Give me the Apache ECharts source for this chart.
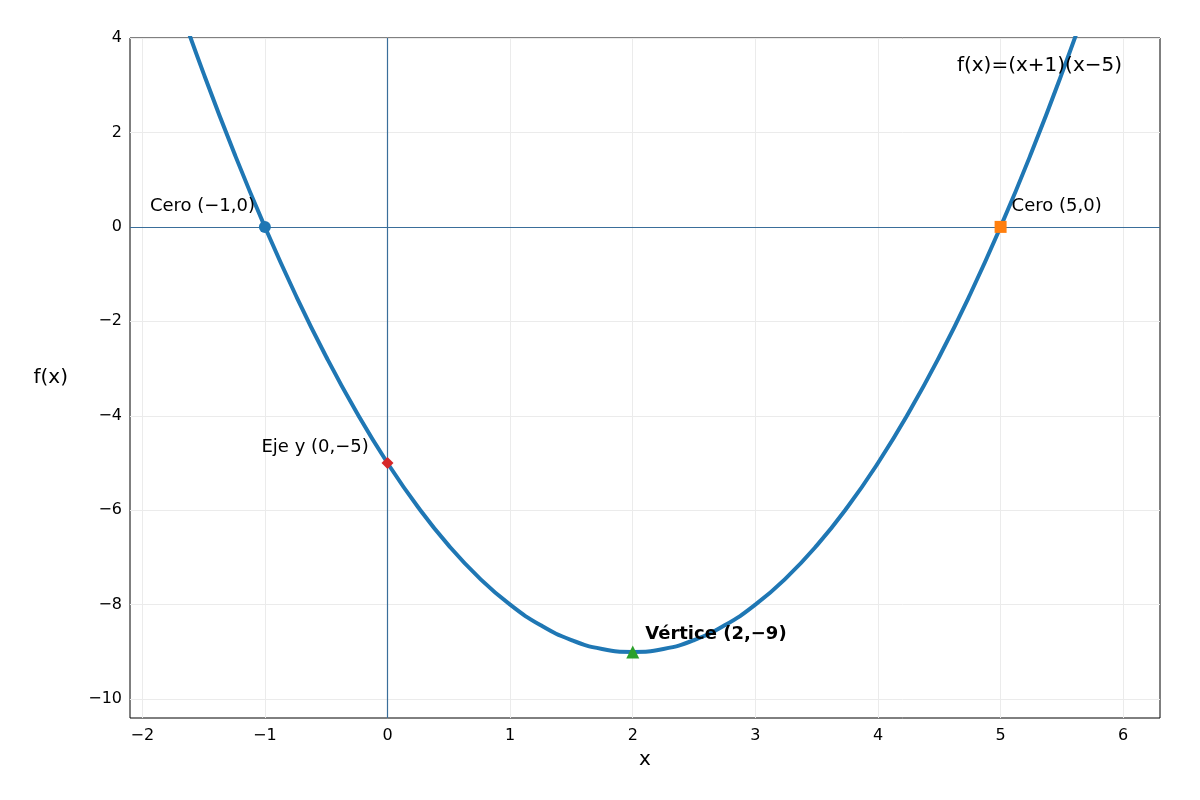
<!DOCTYPE html>
<html><head><meta charset="utf-8">
<script src="https://cdn.jsdelivr.net/npm/echarts@6/dist/echarts.min.js"></script>
<style>html,body{margin:0;background:#fff}#c{width:1200px;height:800px}</style>
</head><body><div id="c"></div>
<script>
const curveX = [-1.75,-1.5,-1.25,-1,-0.75,-0.5,-0.25,0,0.25,0.5,0.75,1,1.25,1.5,1.75,2,2.25,2.5,2.75,3,3.25,3.5,3.75,4,4.25,4.5,4.75,5,5.25,5.5,5.75];
const curveY = [5.0625,3.25,1.5625,0,-1.4375,-2.75,-3.9375,-5,-5.9375,-6.75,-7.4375,-8,-8.4375,-8.75,-8.9375,-9,-8.9375,-8.75,-8.4375,-8,-7.4375,-6.75,-5.9375,-5,-3.9375,-2.75,-1.4375,0,1.5625,3.25,5.0625];
const xTicks = [-2,-1,0,1,2,3,4,5,6];
const yTicks = [-10,-8,-6,-4,-2,0,2,4];
const points = [
  {name:'Cero (−1,0)', x:-1, y:0, symbol:'circle', color:'#1f77b4', pos:[-109,-24], bold:false},
  {name:'Cero (5,0)', x:5, y:0, symbol:'rect', color:'#ff7f0e', pos:[17,-24], bold:false},
  {name:'Eje y (0,−5)', x:0, y:-5, symbol:'diamond', color:'#d62728', pos:[-120,-19], bold:false},
  {name:'Vértice (2,−9)', x:2, y:-9, symbol:'triangle', color:'#2ca02c', pos:[19,-20], bold:true}
];
const font = 'DejaVu Sans';
const chart = echarts.init(document.getElementById('c'));
const gridLines = [];
xTicks.forEach(v=>gridLines.push({xAxis:v}));
yTicks.forEach(v=>gridLines.push({yAxis:v}));
chart.setOption({
  animation:false,
  textStyle:{fontFamily:font},
  grid:{left:130,right:40,top:38,bottom:82,show:true,borderColor:'#000',borderWidth:1},
  xAxis:{type:'value',min:-2.1,max:6.3,name:'x',nameLocation:'middle',nameGap:32,
    nameTextStyle:{fontSize:20,color:'#000',fontFamily:font},
    axisLine:{show:false},splitLine:{show:false},
    axisTick:{show:true,customValues:xTicks,length:5,lineStyle:{color:'#000'}},
    axisLabel:{customValues:xTicks,fontSize:16,color:'#000',margin:10,formatter:v=>String(v).replace('-','−')}},
  yAxis:{type:'value',min:-10.4,max:4,name:'f(x)',nameLocation:'middle',nameGap:62,nameRotate:0,
    nameTextStyle:{fontSize:20,color:'#000',fontFamily:font},
    axisLine:{show:false},splitLine:{show:false},
    axisTick:{show:true,customValues:yTicks,length:5,lineStyle:{color:'#000'}},
    axisLabel:{customValues:yTicks,fontSize:16,color:'#000',margin:8,formatter:v=>String(v).replace('-','−')}},
  series:[
    {type:'line',silent:true,z:1,data:[],markLine:{symbol:'none',silent:true,label:{show:false},z:1,
      lineStyle:{color:'#ebebeb',width:1,type:'solid'},data:gridLines}},
    {type:'line',silent:true,z:2,data:[],markLine:{symbol:'none',silent:true,label:{show:false},z:2,
      lineStyle:{color:'#3a6e9a',width:1.2,type:'solid'},data:[{xAxis:0},{yAxis:0}]}},
    {type:'line',z:3,silent:true,data:curveX.map((x,i)=>[x,curveY[i]]),smooth:true,showSymbol:false,clip:true,
      lineStyle:{color:'#1f77b4',width:4}},
    ...points.map(p=>({type:'scatter',z:10,silent:true,data:[[p.x,p.y]],symbol:p.symbol,symbolSize:p.symbol==='triangle'?13:12,
      itemStyle:{color:p.color,opacity:1},
      label:{show:true,formatter:p.name,position:p.pos,fontSize:18,color:'#000',opacity:1,fontWeight:p.bold?'bold':'normal',fontFamily:font}}))
  ],
  graphic:[{type:'text',right:78,top:56,z:20,style:{text:'f(x)=(x+1)(x−5)',fontSize:20,fill:'#000',fontFamily:font}}]
});
</script></body></html>
